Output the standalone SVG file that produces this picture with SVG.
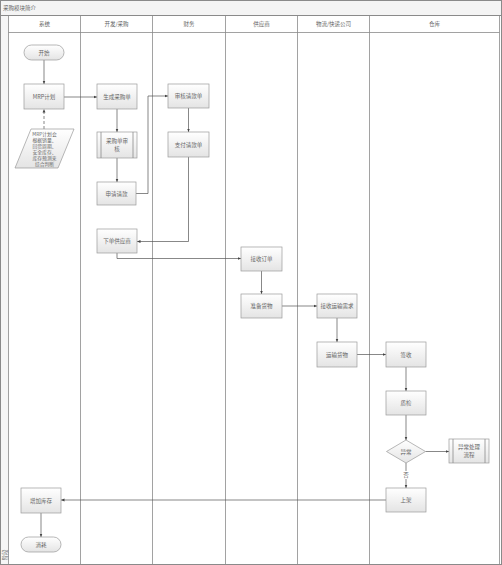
<svg xmlns="http://www.w3.org/2000/svg" width="502" height="565" viewBox="0 0 502 565">
<style>
.frame{fill:none;stroke:#8a8a8a;stroke-width:1}
.lane{fill:none;stroke:#8a8a8a;stroke-width:0.8}
.box{fill:url(#g);stroke:#9a9a9a;stroke-width:0.7}
.t{font-family:"Noto Sans CJK SC","Liberation Sans",sans-serif;font-size:5.5px;fill:#666;text-anchor:middle;dominant-baseline:central}
.h{font-family:"Noto Sans CJK SC","Liberation Sans",sans-serif;font-size:5.5px;fill:#666;text-anchor:middle;dominant-baseline:central}
.c{fill:none;stroke:#555;stroke-width:0.7}
.d{fill:none;stroke:#555;stroke-width:0.7;stroke-dasharray:3,2}
</style>
<defs>
<linearGradient id="g" x1="0" y1="0" x2="0" y2="1"><stop offset="0" stop-color="#ffffff"/><stop offset="1" stop-color="#e4e4e4"/></linearGradient>
<marker id="a" viewBox="0 0 6 6" refX="6" refY="3" markerWidth="5" markerHeight="5" orient="auto"><path d="M0,0.5 L6,3 L0,5.5 z" fill="#444"/></marker>
</defs>
<rect x="0" y="0" width="502" height="565" fill="#ffffff"/>
<g id="frame">
<rect class="frame" x="0.5" y="0.5" width="501" height="564"/>
<line class="frame" x1="0.5" y1="15.5" x2="501.5" y2="15.5"/>
<rect fill="#f4f4f4" x="1" y="1" width="500" height="14"/>
<text x="3" y="8" class="h" style="text-anchor:start">采购模块简介</text>
<rect fill="#f6f6f6" x="1" y="16" width="7.5" height="548"/>
<line class="lane" x1="8.5" y1="15.5" x2="8.5" y2="564.5"/>
<line class="lane" x1="499.5" y1="15.5" x2="499.5" y2="564.5"/>
<line class="lane" x1="8.5" y1="32.5" x2="499.5" y2="32.5"/>
<line class="lane" x1="80.5" y1="15.5" x2="80.5" y2="564.5"/>
<line class="lane" x1="152.5" y1="15.5" x2="152.5" y2="564.5"/>
<line class="lane" x1="225.5" y1="15.5" x2="225.5" y2="564.5"/>
<line class="lane" x1="297.5" y1="15.5" x2="297.5" y2="564.5"/>
<line class="lane" x1="369.5" y1="15.5" x2="369.5" y2="564.5"/>
<text class="h" x="44.5" y="24">系统</text>
<text class="h" x="116.5" y="24">开发/采购</text>
<text class="h" x="189" y="24">财务</text>
<text class="h" x="261.5" y="24">供应商</text>
<text class="h" x="333.5" y="24">物流/快递公司</text>
<text class="h" x="434.5" y="24">仓库</text>
<text class="h" x="4.5" y="555" transform="rotate(-90 4.5 555)">阶段</text>
</g>
<g id="connectors">
<path class="c" d="M44,60 V84" marker-end="url(#a)"/>
<path class="d" d="M44,129 V109" marker-end="url(#a)"/>
<path class="c" d="M64,97 H97" marker-end="url(#a)"/>
<path class="c" d="M117,109 V132" marker-end="url(#a)"/>
<path class="c" d="M117,158 V182" marker-end="url(#a)"/>
<path class="c" d="M136,193.5 H148 V96 H168" marker-end="url(#a)"/>
<path class="c" d="M188.5,108 V132" marker-end="url(#a)"/>
<path class="c" d="M188.5,157 V241.5 H137" marker-end="url(#a)"/>
<path class="c" d="M117,253 V258.5 H241" marker-end="url(#a)"/>
<path class="c" d="M261.5,271 V294" marker-end="url(#a)"/>
<path class="c" d="M282,306 H317" marker-end="url(#a)"/>
<path class="c" d="M337,318 V342" marker-end="url(#a)"/>
<path class="c" d="M357,354.5 H386" marker-end="url(#a)"/>
<path class="c" d="M406,367 V391" marker-end="url(#a)"/>
<path class="c" d="M406,415 V440" marker-end="url(#a)"/>
<path class="c" d="M425.5,451.5 H449" marker-end="url(#a)"/>
<path class="c" d="M406,463 V488" marker-end="url(#a)"/>
<rect x="402" y="471" width="8" height="8" fill="#fff"/>
<text class="t" x="406" y="475">否</text>
<path class="c" d="M386,500 H61" marker-end="url(#a)"/>
<path class="c" d="M41,513 V537" marker-end="url(#a)"/>
</g>
<g id="start"><rect class="box" x="24" y="45" width="40" height="15" rx="7.5"/><text class="t" x="44" y="52.5">开始</text></g>
<g id="mrp"><rect class="box" x="24" y="84" width="40" height="25"/><text class="t" x="44" y="96.5">MRP计划</text></g>
<g id="mrpnote"><path class="box" d="M31,129 H74 L58,168 H15 Z"/>
<text class="t" style="font-size:4.8px" x="44.5" y="133">MRP计划会</text>
<text class="t" style="font-size:4.8px" x="44.5" y="139">根据销量、</text>
<text class="t" style="font-size:4.8px" x="44.5" y="145">回货周期、</text>
<text class="t" style="font-size:4.8px" x="44.5" y="151">安全库存、</text>
<text class="t" style="font-size:4.8px" x="44.5" y="157">库存预测来</text>
<text class="t" style="font-size:4.8px" x="44.5" y="163">综合判断</text></g>
<g id="gen"><rect class="box" x="97" y="84" width="40" height="25"/><text class="t" x="117" y="96.5">生成采购单</text></g>
<g id="audit"><rect class="box" x="97" y="132" width="40" height="26"/><line class="lane" x1="101" y1="132" x2="101" y2="158"/><line class="lane" x1="133" y1="132" x2="133" y2="158"/><text class="t" x="117" y="141">采购单审</text><text class="t" x="117" y="149">核</text></g>
<g id="apply"><rect class="box" x="97" y="182" width="39" height="23"/><text class="t" x="116.5" y="193.5">申请请款</text></g>
<g id="review"><rect class="box" x="168" y="84" width="41" height="24"/><text class="t" x="188.5" y="96">审核请款单</text></g>
<g id="pay"><rect class="box" x="168" y="132" width="41" height="25"/><text class="t" x="188.5" y="144.5">支付请款单</text></g>
<g id="order"><rect class="box" x="97" y="229" width="40" height="24"/><text class="t" x="117" y="241">下单供应商</text></g>
<g id="receive"><rect class="box" x="241" y="247" width="41" height="24"/><text class="t" x="261.5" y="259">接收订单</text></g>
<g id="prepare"><rect class="box" x="241" y="294" width="41" height="24"/><text class="t" x="261.5" y="306">准备货物</text></g>
<g id="transreq"><rect class="box" x="317" y="294" width="40" height="24"/><text class="t" x="337" y="306">接收运输需求</text></g>
<g id="transport"><rect class="box" x="317" y="342" width="40" height="25"/><text class="t" x="337" y="354.5">运输货物</text></g>
<g id="sign"><rect class="box" x="386" y="342" width="40" height="25"/><text class="t" x="406" y="354.5">签收</text></g>
<g id="qc"><rect class="box" x="386" y="391" width="40" height="24"/><text class="t" x="406" y="403">质检</text></g>
<g id="abnormal"><path class="box" d="M406,440 L425.5,451.5 L406,463 L386.5,451.5 Z"/><text class="t" x="406" y="451.5">异常</text></g>
<g id="handle"><rect class="box" x="449" y="439" width="40" height="24"/><line class="lane" x1="453" y1="439" x2="453" y2="463"/><line class="lane" x1="485" y1="439" x2="485" y2="463"/><text class="t" x="469" y="447">异常处理</text><text class="t" x="469" y="455">流程</text></g>
<g id="shelf"><rect class="box" x="386" y="488" width="40" height="24"/><text class="t" x="406" y="500">上架</text></g>
<g id="stock"><rect class="box" x="21" y="488" width="40" height="25"/><text class="t" x="41" y="500.5">增加库存</text></g>
<g id="end"><rect class="box" x="21" y="537" width="40" height="15" rx="7.5"/><text class="t" x="41" y="544.5">消耗</text></g>
</svg>
